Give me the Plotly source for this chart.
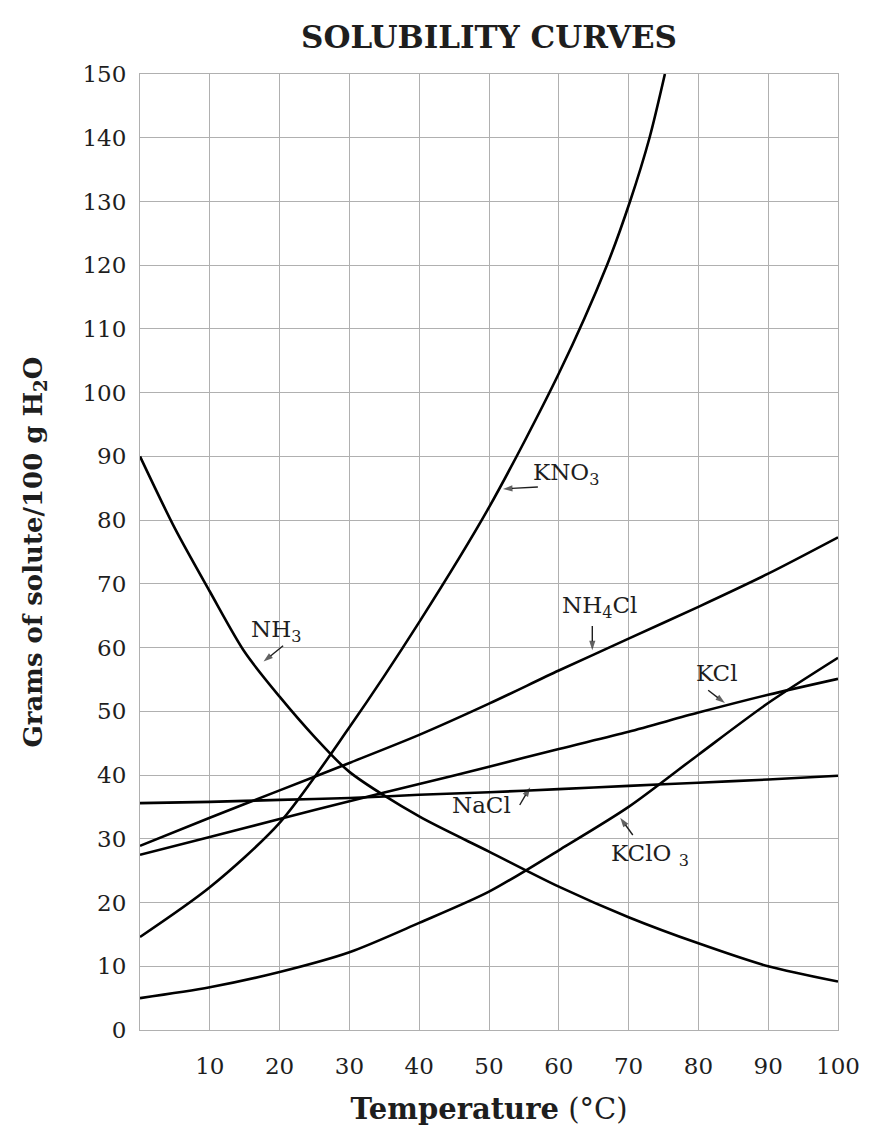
import plotly.graph_objects as go

# ---- data ----
temps = [0, 10, 20, 30, 40, 50, 60, 70, 80, 90, 100]

nh3_t = [0, 5, 10, 15, 20, 25, 30, 40, 50, 60, 70, 80, 90, 100]
nh3_v = [90, 78.7, 68.8, 59.3, 52.3, 46, 40.5, 33.5, 28, 22.5, 17.7, 13.6, 10, 7.6]

kno3_t = [0, 10, 20, 30, 40, 50, 60, 66.9, 70.2, 73.0, 75.2]
kno3_v = [14.6, 22.4, 32.5, 47.5, 64, 82, 103, 120, 130, 140, 150]

nh4cl_v = [28.9, 33.3, 37.6, 41.9, 46.3, 51.2, 56.4, 61.4, 66.4, 71.6, 77.3]
kcl_v = [27.5, 30.3, 33.1, 35.9, 38.6, 41.3, 44.1, 46.8, 49.8, 52.6, 55.1]
nacl_v = [35.6, 35.8, 36.1, 36.4, 36.9, 37.3, 37.8, 38.3, 38.8, 39.3, 39.9]
kclo3_v = [5.0, 6.7, 9.1, 12.2, 16.8, 21.7, 28.2, 35.0, 43.2, 51.3, 58.4]

x_ticks = [10, 20, 30, 40, 50, 60, 70, 80, 90, 100]
y_ticks = [0, 10, 20, 30, 40, 50, 60, 70, 80, 90, 100, 110, 120, 130, 140, 150]

# label text, label centre (T, g), arrow tail (T, g), arrow tip (T, g)
labels = [
    ("KNO<sub>3</sub>", 61.0, 87.2, 57.0, 85.2, 52.0, 84.9),
    ("NH<sub>3</sub>", 19.5, 62.6, 20.5, 60.3, 17.7, 57.8),
    ("NH<sub>4</sub>Cl", 65.9, 66.4, 64.8, 63.4, 64.8, 59.6),
    ("KCl", 82.7, 56.0, 81.4, 53.3, 83.8, 51.3),
    ("NaCl", 48.9, 35.3, 54.4, 35.3, 55.9, 38.1),
    ("KClO <sub>3</sub>", 73.1, 27.5, 70.6, 30.6, 68.8, 33.3),
]

FONT = "DejaVu Serif"
INK = "#1e1e1e"
LINE = dict(color="black", width=2.6, shape="spline", smoothing=0.8)

fig = go.Figure()
series = [
    ("NH3", nh3_t, nh3_v),
    ("KNO3", kno3_t, kno3_v),
    ("NH4Cl", temps, nh4cl_v),
    ("KCl", temps, kcl_v),
    ("NaCl", temps, nacl_v),
    ("KClO3", temps, kclo3_v),
]
for name, xs, ys in series:
    fig.add_trace(go.Scatter(x=xs, y=ys, mode="lines", name=name,
                             line=LINE, showlegend=False, hoverinfo="x+y+name"))

# pointer arrows drawn as small two-point traces with an arrow marker at the tip
for text, lx, ly, tx, ty, hx, hy in labels:
    fig.add_trace(go.Scatter(
        x=[tx, hx], y=[ty, hy], mode="lines+markers", showlegend=False,
        hoverinfo="skip", line=dict(color=INK, width=1.4),
        marker=dict(symbol=["circle", "arrow"], size=[0, 10], color=INK,
                    angleref="previous", line=dict(width=0)),
    ))

annotations = []
for text, lx, ly, tx, ty, hx, hy in labels:
    annotations.append(dict(x=lx, y=ly, xref="x", yref="y", text=text,
                            showarrow=False,
                            font=dict(family=FONT, size=23, color=INK)))

grid = "#b0b0b0"
fig.update_layout(
    width=876, height=1140,
    margin=dict(l=132, r=46, t=66, b=118),
    paper_bgcolor="white", plot_bgcolor="white",
    font=dict(family=FONT, color=INK),
    title=dict(text="<b>SOLUBILITY CURVES</b>", x=481 / 876, xanchor="center",
               y=1 - 29 / 1140, yanchor="middle",
               font=dict(family=FONT, size=31, color=INK)),
    xaxis=dict(range=[0, 100], tickvals=x_ticks, ticktext=[str(v) for v in x_ticks],
               showgrid=True, gridcolor=grid, gridwidth=1,
               showline=True, linecolor=grid, linewidth=1, mirror=True,
               zeroline=False, ticks="", ticklabelstandoff=15,
               tickfont=dict(family=FONT, size=23, color=INK),
               title=dict(text="<b>Temperature</b> (°C)", standoff=21,
                          font=dict(family=FONT, size=29, color=INK))),
    yaxis=dict(range=[0, 150], tickvals=y_ticks, ticktext=[str(v) for v in y_ticks],
               showgrid=True, gridcolor=grid, gridwidth=1,
               showline=True, linecolor=grid, linewidth=1, mirror=True,
               zeroline=False, ticks="", ticklabelstandoff=8,
               tickfont=dict(family=FONT, size=23, color=INK),
               title=dict(text="<b>Grams of solute/100 g H<sub>2</sub>O</b>", standoff=32,
                          font=dict(family=FONT, size=26, color=INK))),
    annotations=annotations,
)

fig.write_html("out.html")
